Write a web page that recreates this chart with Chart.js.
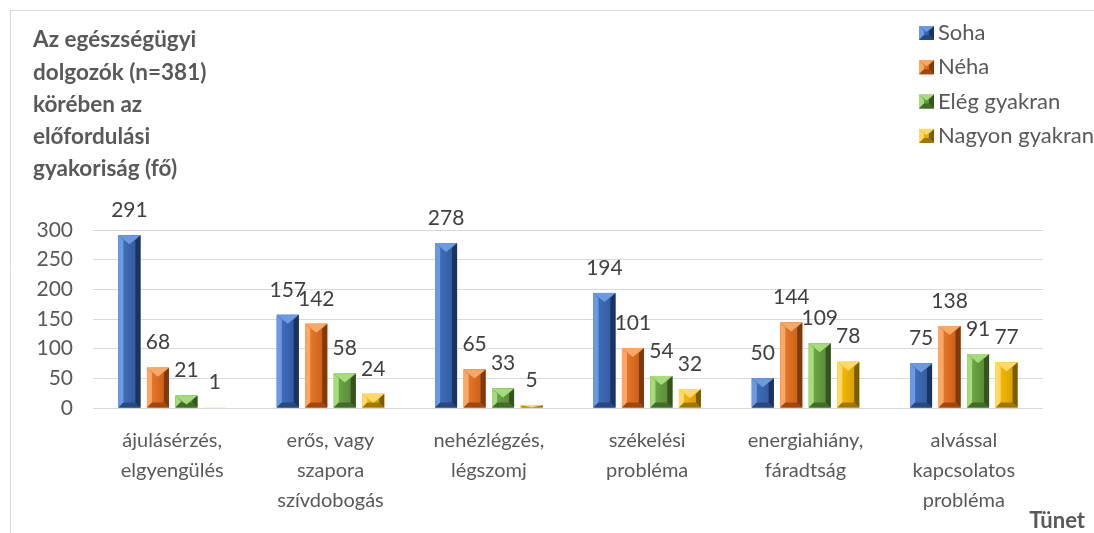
<!DOCTYPE html>
<html><head><meta charset="utf-8">
<script src="https://cdn.jsdelivr.net/npm/chart.js@4.4.1/dist/chart.umd.min.js"></script>
<style>html,body{margin:0;padding:0;background:#fff;}#wrap{position:relative;width:1094px;height:533px;}</style>
</head><body><div id="wrap"><canvas id="c" width="1094" height="533"></canvas></div>
<script>
const categories = [["ájulásérzés,","elgyengülés"],["erős, vagy","szapora","szívdobogás"],["nehézlégzés,","légszomj"],["székelési","probléma"],["energiahiány,","fáradtság"],["alvással","kapcsolatos","probléma"]];
const soha = [291,157,278,194,50,75];
const neha = [68,142,65,101,144,138];
const elegGyakran = [21,58,33,54,109,91];
const nagyonGyakran = [1,24,5,32,78,77];
const seriesNames = ["Soha","Néha","Elég gyakran","Nagyon gyakran"];
const yTicks = [0,50,100,150,200,250,300];
const titleLines = ["Az egészségügyi","dolgozók (n=381)","körében az","előfordulási","gyakoriság (fő)"];
const xAxisTitle = "Tünet";

const FONT = "Lato, 'Liberation Sans', sans-serif";
const palette = [
  {base:'#4472C4', light:'#6c9ae2', face1:'#4474c6', face2:'#2f5597', dark:'#1b3360', bottom:'#28487e'},
  {base:'#ED7D31', light:'#f9a865', face1:'#ee7e32', face2:'#c55a11', dark:'#7e3a0c', bottom:'#a0480f'},
  {base:'#70AD47', light:'#a6dc7c', face1:'#72b048', face2:'#548235', dark:'#35531f', bottom:'#456b2b'},
  {base:'#FFC000', light:'#ffda6a', face1:'#ffc000', face2:'#cf9b00', dark:'#7a5c00', bottom:'#9e7700'}
];
const seriesValues = [soha, neha, elegGyakran, nagyonGyakran];

function poly(ctx, pts, color){
  ctx.beginPath(); ctx.moveTo(pts[0][0], pts[0][1]);
  for (let i=1;i<pts.length;i++) ctx.lineTo(pts[i][0], pts[i][1]);
  ctx.closePath(); ctx.fillStyle = color; ctx.fill();
}
function drawBevel(ctx, x0, y0, x1, y1, c, bMax, dMax){
  const w = x1-x0, h = y1-y0;
  if (h <= 0 || w <= 0) return;
  const g = ctx.createLinearGradient(x0,0,x1,0);
  g.addColorStop(0, c.face1); g.addColorStop(1, c.face2);
  ctx.fillStyle = g; ctx.fillRect(x0, y0, w, h);
  if (h < 2) return;
  const b = Math.min(bMax, w/2, h/2);
  const d = Math.min(dMax, h);
  const xc = (x0+x1)/2;
  poly(ctx, [[x0,y0],[x0+b,y0+b],[x0+b,y1-b],[x0,y1]], c.light);
  poly(ctx, [[x1,y0],[x1-b,y0+b],[x1-b,y1-b],[x1,y1]], c.dark);
  poly(ctx, [[x0,y1],[x0+b,y1-b],[x1-b,y1-b],[x1,y1]], c.bottom);
  poly(ctx, [[x0,y0],[x1,y0],[xc,y0+d]], c.light);
}

const framePlugin = {
  id:'frame',
  beforeDraw(chart){
    const ctx = chart.ctx; ctx.save();
    ctx.strokeStyle = '#d9d9d9'; ctx.lineWidth = 1;
    ctx.beginPath(); ctx.moveTo(10, 10.5); ctx.lineTo(1094, 10.5);
    ctx.moveTo(10.5, 10); ctx.lineTo(10.5, 533); ctx.stroke();
    ctx.restore();
  }
};

const barPlugin = {
  id:'bevelBars',
  afterDatasetsDraw(chart){
    const ctx = chart.ctx; ctx.save();
    chart.data.datasets.forEach((ds, i) => {
      const meta = chart.getDatasetMeta(i);
      meta.data.forEach((el, j) => {
        const p = el.getProps(['x','y','base','width'], true);
        const x0 = p.x - p.width/2, x1 = p.x + p.width/2;
        const yt = Math.min(p.y, p.base), yb = Math.max(p.y, p.base);
        drawBevel(ctx, x0, yt, x1, yb, palette[i], 5, 9);
        ctx.fillStyle = '#404040';
        ctx.font = '21px ' + FONT;
        ctx.textAlign = 'center'; ctx.textBaseline = 'middle';
        ctx.fillText(String(ds.data[j]), p.x, yt - 25);
      });
    });
    ctx.restore();
  }
};

const textPlugin = {
  id:'texts',
  afterDraw(chart){
    const ctx = chart.ctx; ctx.save();
    ctx.fillStyle = '#595959';
    ctx.font = 'bold 22.5px ' + FONT;
    ctx.textAlign = 'left'; ctx.textBaseline = 'middle';
    titleLines.forEach((t, i) => ctx.fillText(t, 33, 40 + i*32.3));
    seriesNames.forEach((n, i) => {
      const y = 33 + i*34.3;
      drawBevel(ctx, 919, y-7, 934, y+7, palette[i], 5, 6);
      ctx.fillStyle = '#595959';
      ctx.font = '22px ' + FONT;
      ctx.textAlign = 'left'; ctx.textBaseline = 'middle';
      ctx.fillText(n, 938, y);
    });
    ctx.font = 'bold 22px ' + FONT;
    ctx.textAlign = 'right'; ctx.fillStyle = '#595959';
    ctx.fillText(xAxisTitle, 1085, 521);
    ctx.restore();
  }
};

new Chart(document.getElementById('c'), {
  type:'bar',
  data:{
    labels: categories,
    datasets: seriesNames.map((n, i) => ({
      label: n, data: seriesValues[i], backgroundColor: palette[i].base,
      categoryPercentage: 0.72, barPercentage: 0.77
    }))
  },
  options:{
    responsive:false, animation:false, devicePixelRatio:1,
    layout:{padding:{top:230, left:10, right:51, bottom:0}},
    plugins:{legend:{display:false}, tooltip:{enabled:false}},
    scales:{
      x:{
        grid:{display:false, drawTicks:false}, border:{display:false},
        ticks:{color:'#595959', font:{family:FONT, size:20, lineHeight:1.5}, padding:18, maxRotation:0, autoSkip:false},
        afterFit(s){ s.height = 125; }
      },
      y:{
        min:0, max:300,
        grid:{color:'#d9d9d9', drawTicks:false}, border:{display:false},
        ticks:{stepSize:50, color:'#595959', font:{family:FONT, size:21}, padding:20,
          callback:(v) => yTicks.includes(v) ? String(v) : null},
        afterFit(s){ s.width = 83; }
      }
    }
  },
  plugins:[framePlugin, barPlugin, textPlugin]
});
</script></body></html>
